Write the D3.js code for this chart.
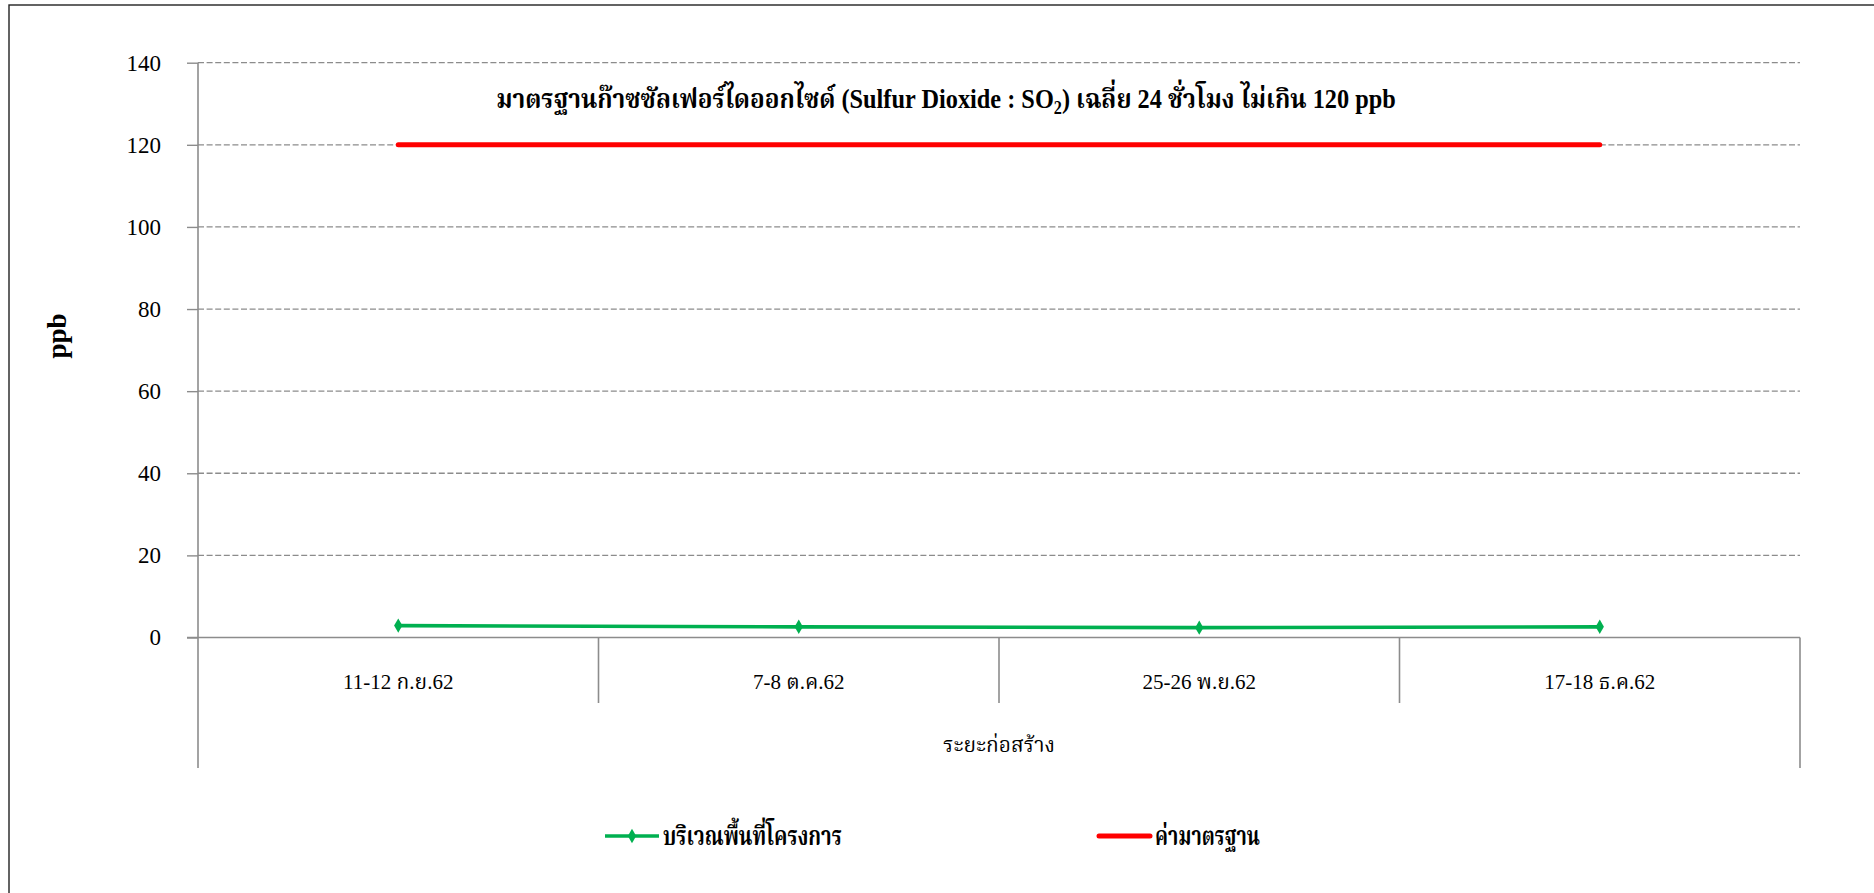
<!DOCTYPE html>
<html>
<head>
<meta charset="utf-8">
<script src="https://cdn.jsdelivr.net/npm/d3@7/dist/d3.min.js"></script>
<style>
  html, body { margin: 0; padding: 0; background: #fff; }
  svg { display: block; }
  text { font-family: "Liberation Serif", "Times New Roman", "Noto Serif Thai", "Noto Sans Thai", "Loma", "Garuda", serif; fill: #000; }
</style>
</head>
<body>
<svg id="chart" width="1874" height="893"></svg>
<script>
// Sampling rounds and their 24-hour SO2 averages (ppb)
const categories = ["11-12 ก.ย.62", "7-8 ต.ค.62", "25-26 พ.ย.62", "17-18 ธ.ค.62"];
const siteValues = [2.9, 2.6, 2.4, 2.6];
const standardValues = [120, 120, 120, 120];
const yTicks = [0, 20, 40, 60, 80, 100, 120, 140];
const groupLabel = "ระยะก่อสร้าง";
const seriesNames = ["บริเวณพื้นที่โครงการ", "ค่ามาตรฐาน"];
const yTitle = "ppb";

const svg = d3.select("#chart");

const plotLeft = 198, plotRight = 1800, plotTop = 62.7, plotBase = 637.5;
const x = d3.scaleBand().domain(categories).range([plotLeft, plotRight]);
const y = d3.scaleLinear().domain([0, 140]).range([plotBase, plotTop]);
const cx = c => x(c) + x.bandwidth() / 2;

// Squeeze a text element horizontally so it spans the given width,
// keeping its anchor point fixed
function fitWidth(sel, width, anchorX) {
  const w = sel.node().getBBox().width;
  if (w > 0) {
    const s = width / w;
    sel.attr("transform", `translate(${anchorX},0) scale(${s},1) translate(${-anchorX},0)`);
  }
}

// Outer frame (runs past the right and bottom edges of the page)
svg.append("rect")
  .attr("x", 9).attr("y", 5).attr("width", 1900).attr("height", 920)
  .attr("fill", "none").attr("stroke", "#222").attr("stroke-width", 1.4);

// Dashed horizontal gridlines
svg.append("g")
  .selectAll("line")
  .data(yTicks.filter(t => t > 0))
  .join("line")
  .attr("x1", plotLeft).attr("x2", plotRight)
  .attr("y1", d => y(d)).attr("y2", d => y(d))
  .attr("stroke", "#8c8c8c").attr("stroke-width", 1.3)
  .attr("stroke-dasharray", "6,2.6");

// Y axis
const yAxis = svg.append("g")
  .attr("transform", `translate(${plotLeft},0)`)
  .call(d3.axisLeft(y).tickValues(yTicks).tickSize(11).tickPadding(26).tickFormat(d3.format("d")));
yAxis.attr("font-family", null);
yAxis.select(".domain").remove();
yAxis.selectAll(".tick line").attr("stroke", "#8c8c8c").attr("stroke-width", 1.4);
yAxis.selectAll(".tick text")
  .style("font-family", "'Liberation Serif', serif")
  .style("font-size", "23px").attr("fill", "#000");

// Axis lines: vertical axis, outer right edge and baseline
const axisG = svg.append("g").attr("stroke", "#8c8c8c").attr("stroke-width", 1.6);
axisG.append("line").attr("x1", plotLeft).attr("x2", plotLeft).attr("y1", plotTop).attr("y2", 768);
axisG.append("line").attr("x1", plotRight).attr("x2", plotRight).attr("y1", plotBase).attr("y2", 768);
axisG.append("line").attr("x1", plotLeft - 11).attr("x2", plotRight).attr("y1", plotBase).attr("y2", plotBase);

// Category separators
axisG.selectAll("line.sep")
  .data(categories.slice(1))
  .join("line")
  .attr("class", "sep")
  .attr("x1", d => x(d)).attr("x2", d => x(d))
  .attr("y1", plotBase).attr("y2", 703);

// Category labels
svg.append("g")
  .selectAll("text")
  .data(categories)
  .join("text")
  .attr("x", d => cx(d)).attr("y", 682)
  .attr("text-anchor", "middle").attr("dominant-baseline", "central")
  .style("font-size", "21px")
  .text(d => d);

// Group label under the categories
const grp = svg.append("text")
  .attr("x", (plotLeft + plotRight) / 2).attr("y", 745)
  .attr("text-anchor", "middle").attr("dominant-baseline", "central")
  .style("font-size", "22px")
  .text(groupLabel);
fitWidth(grp, 112, (plotLeft + plotRight) / 2);

// Y axis title
svg.append("text")
  .attr("transform", "translate(57,336) rotate(-90)")
  .attr("text-anchor", "middle").attr("dominant-baseline", "central")
  .style("font-size", "27px").style("font-weight", "bold")
  .text(yTitle);

// Chart title
const title = svg.append("text")
  .attr("x", 946).attr("y", 108)
  .attr("text-anchor", "middle")
  .style("font-size", "27px").style("font-weight", "bold");
title.append("tspan").text("มาตรฐานก๊าซซัลเฟอร์ไดออกไซด์ (Sulfur Dioxide : SO");
title.append("tspan").attr("dy", 6).style("font-size", "18px").text("2");
title.append("tspan").attr("dy", -6).text(") เฉลี่ย 24 ชั่วโมง ไม่เกิน 120 ppb");
fitWidth(title, 900, 946);

// Standard limit line
const line = d3.line().x((d, i) => cx(categories[i])).y(d => y(d));
svg.append("path")
  .datum(standardValues)
  .attr("d", line)
  .attr("fill", "none").attr("stroke", "#ff0000")
  .attr("stroke-width", 5).attr("stroke-linecap", "round");

// Measured series
svg.append("path")
  .datum(siteValues)
  .attr("d", line)
  .attr("fill", "none").attr("stroke", "#00b050")
  .attr("stroke-width", 3.6).attr("stroke-linejoin", "round");

const diamond = d3.symbol().type(d3.symbolDiamond).size(60);
svg.append("g")
  .selectAll("path")
  .data(siteValues)
  .join("path")
  .attr("transform", (d, i) => `translate(${cx(categories[i])},${y(d)})`)
  .attr("d", diamond)
  .attr("fill", "#00b050");

// Legend
const legendY = 836;
const leg = svg.append("g");
leg.append("line")
  .attr("x1", 605).attr("x2", 659).attr("y1", legendY).attr("y2", legendY)
  .attr("stroke", "#00b050").attr("stroke-width", 3.6);
leg.append("path")
  .attr("transform", `translate(632,${legendY})`)
  .attr("d", diamond).attr("fill", "#00b050");
const leg1 = leg.append("text")
  .attr("x", 663).attr("y", legendY)
  .attr("dominant-baseline", "central")
  .style("font-size", "26px").style("font-weight", "bold")
  .text(seriesNames[0]);
fitWidth(leg1, 179, 663);
leg.append("line")
  .attr("x1", 1099).attr("x2", 1150).attr("y1", legendY).attr("y2", legendY)
  .attr("stroke", "#ff0000").attr("stroke-width", 5).attr("stroke-linecap", "round");
const leg2 = leg.append("text")
  .attr("x", 1155).attr("y", legendY)
  .attr("dominant-baseline", "central")
  .style("font-size", "26px").style("font-weight", "bold")
  .text(seriesNames[1]);
fitWidth(leg2, 105, 1155);
</script>
</body>
</html>
